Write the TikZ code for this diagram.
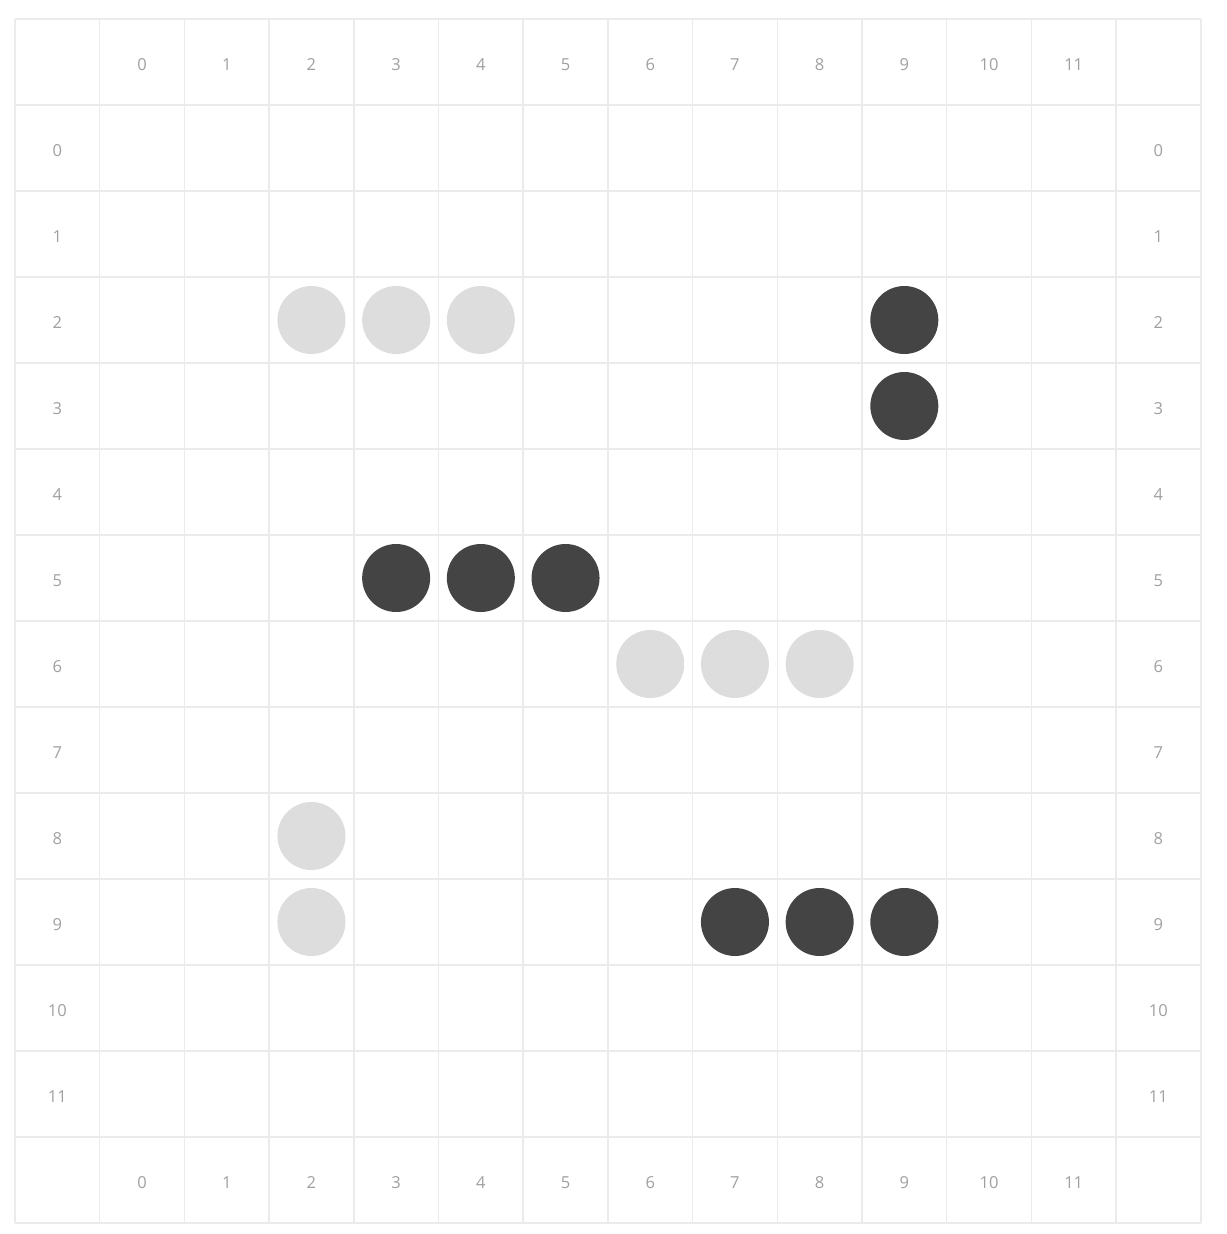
\documentclass[tikz,border=0pt]{standalone}
\usepackage{fontspec}
\usepackage{xcolor}
\usepackage{tikz}
\usetikzlibrary{positioning}
\newfontfamily\labelfont{Open Sans}
\definecolor{gridGray}{HTML}{EBEBEB}
\definecolor{labelGray}{HTML}{A0A0A0}
\definecolor{stoneLight}{HTML}{DDDDDD}
\definecolor{stoneDark}{HTML}{444444}

\begin{document}
\begin{tikzpicture}[
    x={(0.847cm,0)}, y={(0,-0.86cm)},
    gridline/.style={gridGray, line width=0.45pt},
    lbl/.style={text=labelGray, font=\labelfont\fontsize{4.7}{5.5}\selectfont, inner sep=0pt, yshift=-0.03cm},
    stone/.style={circle, minimum size=0.68cm, inner sep=0pt},
    stoneW/.style={stone, fill=stoneLight},
    stoneB/.style={stone, fill=stoneDark}
  ]
  \useasboundingbox (-0.177,-0.221) rectangle (14.298,14.128);

  % board lines
  \foreach \k in {0,...,14} {
    \draw[gridline] (\k,0) -- (\k,14);
    \draw[gridline] (0,\k) -- (14,\k);
  }

  % coordinates round the board
  \foreach \i in {0,...,11} {
    \node[lbl] (top\i)    at (\i+1.5,0.5)  {\i};
    \node[lbl] (bottom\i) at (\i+1.5,13.5) {\i};
    \node[lbl] (left\i)   at (0.5,\i+1.5)  {\i};
    \node[lbl] (right\i)  at (13.5,\i+1.5) {\i};
  }

  % stones
  \foreach \c/\r in {2/2, 3/2, 4/2, 6/6, 7/6, 8/6, 2/8, 2/9} {
    \node[stoneW] (w-\c-\r) at (\c+1.5,\r+1.5) {};
  }
  \foreach \c/\r in {9/2, 9/3, 3/5, 4/5, 5/5, 7/9, 8/9, 9/9} {
    \node[stoneB] (b-\c-\r) at (\c+1.5,\r+1.5) {};
  }
\end{tikzpicture}
\end{document}
